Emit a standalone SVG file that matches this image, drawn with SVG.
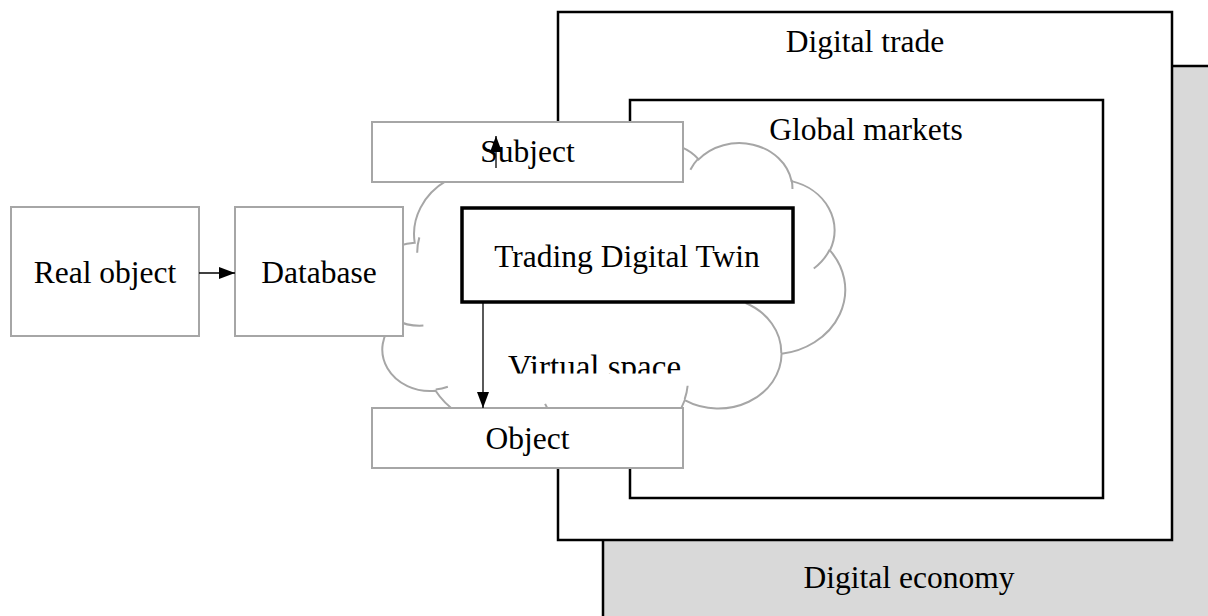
<svg xmlns="http://www.w3.org/2000/svg" width="1208" height="616" viewBox="0 0 1208 616">
<style>
.t{font-family:"Liberation Serif","Times New Roman",serif;font-size:31.5px;fill:#000;text-anchor:middle}
.gb{fill:#fff;stroke:#a6a6a6;stroke-width:2}
.bb{fill:#fff;stroke:#000;stroke-width:2.5}
.cl{fill:#fff;stroke:#a6a6a6;stroke-width:2}
.ci{fill:none;stroke:#a6a6a6;stroke-width:2}
.ln{stroke:#000;stroke-width:1.3;fill:none}
</style>
<defs>
<marker id="ah" viewBox="0 0 16 12" refX="16" refY="6" markerWidth="16" markerHeight="12" markerUnits="userSpaceOnUse" orient="auto">
<path d="M0,0 L16,6 L0,12 Z" fill="#000"/>
</marker>
<clipPath id="vclip"><rect x="380" y="300" width="400" height="73.5"/></clipPath>
</defs>
<g id="digital-economy">
<rect x="603" y="66" width="620" height="570" fill="#d9d9d9" stroke="#000" stroke-width="2.5"/>
<text class="t" x="909" y="588">Digital economy</text>
</g>
<g id="digital-trade">
<rect class="bb" x="558" y="12" width="614" height="528"/>
<text class="t" x="865" y="52">Digital trade</text>
</g>
<g id="global-markets">
<rect class="bb" x="630" y="100" width="473" height="398"/>
<text class="t" x="866" y="140">Global markets</text>
</g>
<g id="virtual-space">
<g transform="translate(372,142) scale(0.0109491,0.0070139)">
<path class="cl" vector-effect="non-scaling-stroke" d="M3900,14370 A6753,9190 0 0 1 14005.1,5202.1 A5333,7267 0 0 1 22458.6,3433 A4365,5945 0 0 1 29836.5,2481.8 A4857,6595 0 0 1 38321,5577.9 A5333,7273 0 0 1 41821.3,15461.8 A6775,9220 0 0 1 37406.8,30204.3 A5785,7867 0 0 1 28558.5,36814.6 A6752,9215 0 0 1 16483.7,39267.3 A7720,10543 0 0 1 5808.5,35474.3 A4360,5918 0 0 1 2115.1,25555.6 A4345,5945 0 0 1 3900,14370 Z"/>
<path class="ci" vector-effect="non-scaling-stroke" d="M4693,26177 A4345,5945 0 0 1 2159.2,25379.4 M6928,34899 A4360,5918 0 0 1 5819.4,35280.6 M16478,39090 A6752,9215 0 0 1 15809.5,37347.5 M28827,34751 A6752,9215 0 0 1 28560.4,36659.9 M34129,22954 A5785,7867 0 0 1 37380.6,30089.7 M41798,15354 A5333,7273 0 0 1 40349.5,18030.4 M38324,5426 A4857,6595 0 0 1 38400.4,6689.7 M29078,3952 A4857,6595 0 0 1 29820.8,2338.2 M22141,4720 A4365,5945 0 0 1 22499.7,3331 M14000,5192 A6753,9190 0 0 1 14059.2,2826.2 M4127,15789 A6753,9190 0 0 1 4322,13596.3"/>
</g>
<text x="508" y="377.5" clip-path="url(#vclip)" style="font-family:'Liberation Serif','Times New Roman',serif;font-size:33px;fill:#000">Virtual space</text>
</g>
<g id="real-object">
<rect class="gb" x="11" y="207" width="188" height="129"/>
<text class="t" x="105" y="283">Real object</text>
</g>
<g id="database">
<rect class="gb" x="235" y="207" width="168" height="129"/>
<text class="t" x="319" y="283">Database</text>
</g>
<g id="subject">
<rect class="gb" x="372" y="122" width="311" height="60"/>
<text class="t" x="527.5" y="162">Subject</text>
</g>
<g id="object">
<rect class="gb" x="372" y="408" width="311" height="60"/>
<text class="t" x="527.5" y="449">Object</text>
</g>
<g id="trading-digital-twin">
<rect x="462" y="208" width="331" height="94" fill="#fff" stroke="#000" stroke-width="3.5"/>
<text class="t" x="627" y="267">Trading Digital Twin</text>
</g>
<g id="connectors">
<line class="ln" x1="199" y1="273" x2="235" y2="273" marker-end="url(#ah)"/>
<line class="ln" x1="483" y1="302" x2="483" y2="408" marker-end="url(#ah)"/>
<line class="ln" x1="496" y1="168" x2="496" y2="136" marker-end="url(#ah)"/>
</g>
</svg>
